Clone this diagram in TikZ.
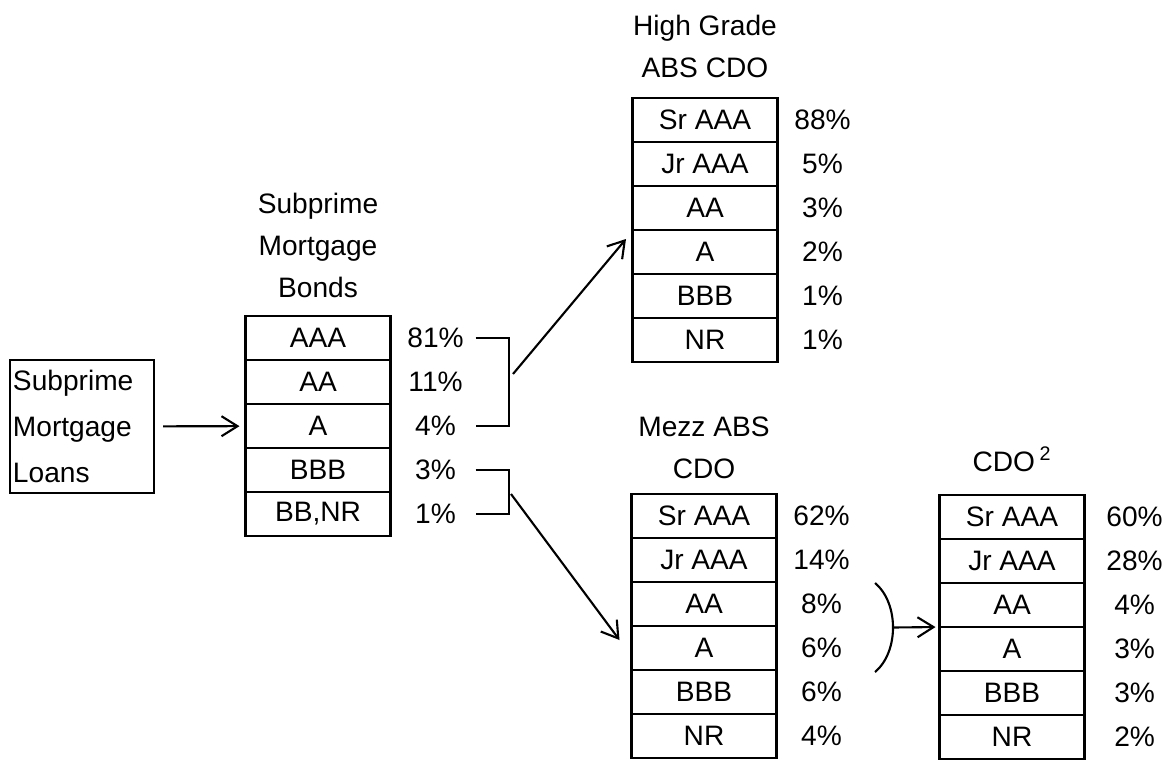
\documentclass[tikz,border=0pt]{standalone}
\usepackage{fontspec}
\setmainfont{Liberation Sans}
\usetikzlibrary{positioning,arrows.meta}

\begin{document}
\begin{tikzpicture}[line width=1.2pt, font=\fontsize{16}{24}\selectfont,
	tranche/.style={draw, minimum width=2.9cm, minimum height=0.88cm, inner sep=0pt, outer sep=0pt},
	pct/.style={text width=1.2cm, align=center, inner sep=0pt},
	heading/.style={align=center, inner sep=0pt},
	pile/.style={-{Straight Barb[length=0.32cm,width=0.4cm]}}]

	\useasboundingbox (0,0) rectangle (23.3,15.2);

	% Loans
	\node[draw, text width=2.76cm, inner sep=0.06cm, minimum height=2.66cm, align=left, font=\fontsize{16}{26}\selectfont] (loans) at (1.64,6.67) {Subprime\\Mortgage\\Loans};

	% Subprime bonds
	\node[tranche] (bAAA) at (6.36,8.44) {AAA};
	\node[tranche, below=0pt of bAAA] (bAA) {AA};
	\node[tranche, below=0pt of bAA] (bA) {A};
	\node[tranche, below=0pt of bA] (bBBB) {BBB};
	\node[tranche, below=0pt of bBBB] (bBB) {BB,NR};
	\node[pct, right=0.28cm of bAAA] (bp1) {81\%};
	\node[pct, right=0.28cm of bAA] (bp2) {11\%};
	\node[pct, right=0.28cm of bA] (bp3) {4\%};
	\node[pct, right=0.28cm of bBBB] (bp4) {3\%};
	\node[pct, right=0.28cm of bBB] (bp5) {1\%};
	\node[heading, above=0.34cm of bAAA] (bTitle) {Subprime\\Mortgage\\Bonds};

	% High grade
	\node[tranche] (hSr) at (14.1,12.8) {Sr AAA};
	\node[tranche, below=0pt of hSr] (hJr) {Jr AAA};
	\node[tranche, below=0pt of hJr] (hAA) {AA};
	\node[tranche, below=0pt of hAA] (hA) {A};
	\node[tranche, below=0pt of hA] (hBBB) {BBB};
	\node[tranche, below=0pt of hBBB] (hNR) {NR};
	\node[pct, right=0.28cm of hSr] (hp1) {88\%};
	\node[pct, right=0.28cm of hJr] (hp2) {5\%};
	\node[pct, right=0.28cm of hAA] (hp3) {3\%};
	\node[pct, right=0.28cm of hA] (hp4) {2\%};
	\node[pct, right=0.28cm of hBBB] (hp5) {1\%};
	\node[pct, right=0.28cm of hNR] (hp6) {1\%};
	\node[heading, above=0.38cm of hSr] (hTitle) {High Grade\\ABS CDO};

	% Mezz
	\node[tranche] (mSr) at (14.08,4.88) {Sr AAA};
	\node[tranche, below=0pt of mSr] (mJr) {Jr AAA};
	\node[tranche, below=0pt of mJr] (mAA) {AA};
	\node[tranche, below=0pt of mAA] (mA) {A};
	\node[tranche, below=0pt of mA] (mBBB) {BBB};
	\node[tranche, below=0pt of mBBB] (mNR) {NR};
	\node[pct, right=0.28cm of mSr] (mp1) {62\%};
	\node[pct, right=0.28cm of mJr] (mp2) {14\%};
	\node[pct, right=0.28cm of mAA] (mp3) {8\%};
	\node[pct, right=0.28cm of mA] (mp4) {6\%};
	\node[pct, right=0.28cm of mBBB] (mp5) {6\%};
	\node[pct, right=0.28cm of mNR] (mp6) {4\%};
	\node[heading, above=0.28cm of mSr] (mTitle) {Mezz ABS\\CDO};

	% CDO squared
	\node[tranche] (cSr) at (20.24,4.86) {Sr AAA};
	\node[tranche, below=0pt of cSr] (cJr) {Jr AAA};
	\node[tranche, below=0pt of cJr] (cAA) {AA};
	\node[tranche, below=0pt of cAA] (cA) {A};
	\node[tranche, below=0pt of cA] (cBBB) {BBB};
	\node[tranche, below=0pt of cBBB] (cNR) {NR};
	\node[pct, right=0.38cm of cSr] (cp1) {60\%};
	\node[pct, right=0.38cm of cJr] (cp2) {28\%};
	\node[pct, right=0.38cm of cAA] (cp3) {4\%};
	\node[pct, right=0.38cm of cA] (cp4) {3\%};
	\node[pct, right=0.38cm of cBBB] (cp5) {3\%};
	\node[pct, right=0.38cm of cNR] (cp6) {2\%};
	\node[heading, above=0.44cm of cSr] (cTitle) {CDO\,\textsuperscript{2}};

	% Brackets
	\draw ([xshift=0.18cm]bp1.east) -- ++(0.66,0) |- ([xshift=0.18cm]bp3.east);
	\draw ([xshift=0.18cm]bp4.east) -- ++(0.66,0) |- ([xshift=0.18cm]bp5.east);
	\draw (17.5,3.54) .. controls (17.98,3.14) and (17.98,2.16) .. (17.5,1.76);

	% Arrows
	\coordinate (hgFrom) at (10.26,7.72);
	\coordinate (mzFrom) at (10.22,5.32);
	\coordinate (parenMid) at (17.86,2.65);
	\draw[pile, shorten <=0.16cm, shorten >=0.12cm] (loans) -- (bA);
	\draw[pile] (hgFrom) -- ([xshift=-0.13cm,yshift=0.26cm]hA.west);
	\draw[pile] (mzFrom) -- ([xshift=-0.24cm,yshift=0.16cm]mA.west);
	\draw[pile, shorten >=0.08cm] (parenMid) -- (cAA.south west);

\end{tikzpicture}
\end{document}
